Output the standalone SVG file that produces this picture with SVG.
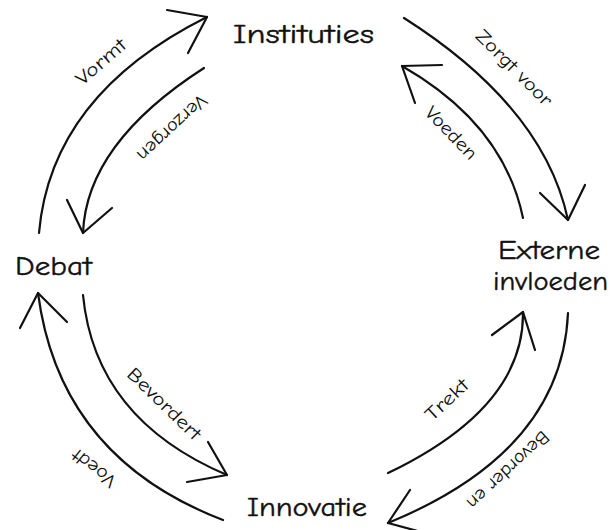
<svg xmlns="http://www.w3.org/2000/svg" width="615" height="530" viewBox="0 0 615 530">
<style>
.node{font-family:"Comic Neue","DejaVu Sans","Liberation Sans",sans-serif;font-size:27px;fill:#111;stroke:#111;stroke-width:0.4;}
.lbl{font-family:"Comic Neue","DejaVu Sans","Liberation Sans",sans-serif;font-size:19px;fill:#111;text-anchor:middle;dominant-baseline:central;}
.c{fill:none;stroke:#111;stroke-width:2.2;stroke-linecap:round;stroke-linejoin:round;}
</style>
<rect width="615" height="530" fill="#fff"/>
<g id="connectors">
  <g id="e-vormt">
    <path class="c" d="M39,233 Q51,95 207,17"/>
    <path class="c" d="M167,10 L207,17 L188,53"/>
    <text class="lbl" transform="translate(101,62) rotate(-41)" textLength="60" lengthAdjust="spacingAndGlyphs">Vormt</text>
  </g>
  <g id="e-verzorgen">
    <path class="c" d="M204,68 Q86.5,143.5 83,233"/>
    <path class="c" d="M67,200 L83,233 L112,208"/>
    <text class="lbl" transform="translate(172,128) rotate(137)" textLength="88" lengthAdjust="spacingAndGlyphs">Verzorgen</text>
  </g>
  <g id="e-zorgt">
    <path class="c" d="M404,18 Q544,107 568,220"/>
    <path class="c" d="M540,193 L568,220 L585,185"/>
    <text class="lbl" transform="translate(514,68) rotate(45)" textLength="100" lengthAdjust="spacingAndGlyphs">Zorgt voor</text>
  </g>
  <g id="e-voeden">
    <path class="c" d="M523,218 Q503.5,124 402,66"/>
    <path class="c" d="M442,65 L402,66 L415,103"/>
    <text class="lbl" transform="translate(451,133) rotate(46)" textLength="66" lengthAdjust="spacingAndGlyphs">Voeden</text>
  </g>
  <g id="e-trekt">
    <path class="c" d="M388,473 Q524.5,407.5 523,312"/>
    <path class="c" d="M492,335 L523,312 L535,350"/>
    <text class="lbl" transform="translate(447,400) rotate(-43)" textLength="52" lengthAdjust="spacingAndGlyphs">Trekt</text>
  </g>
  <g id="e-bevorderen">
    <path class="c" d="M568,313 Q562,452 388,523"/>
    <path class="c" d="M410,490 L388,523 L425,533"/>
    <text class="lbl" transform="translate(508,470) rotate(137)" textLength="105" lengthAdjust="spacingAndGlyphs">Bevorder en</text>
  </g>
  <g id="e-bevordert">
    <path class="c" d="M83,295 Q95,419 227,475"/>
    <path class="c" d="M208,442 L227,475 L187,482"/>
    <text class="lbl" transform="translate(164,404) rotate(44)" textLength="95" lengthAdjust="spacingAndGlyphs">Bevordert</text>
  </g>
  <g id="e-voedt">
    <path class="c" d="M223,520 Q59.5,457.5 38,293"/>
    <path class="c" d="M20,328 L38,293 L67,322"/>
    <text class="lbl" transform="translate(94,468) rotate(218)" textLength="50" lengthAdjust="spacingAndGlyphs">Voedt</text>
  </g>
</g>
<g id="n-instituties"><text class="node" x="233" y="43" textLength="141" lengthAdjust="spacingAndGlyphs">Instituties</text></g>
<g id="n-debat"><text class="node" x="15" y="275" textLength="77" lengthAdjust="spacingAndGlyphs">Debat</text></g>
<g id="n-externe"><text class="node" x="498" y="259" textLength="102" lengthAdjust="spacingAndGlyphs">Externe</text><text class="node" x="493" y="290" textLength="115" lengthAdjust="spacingAndGlyphs">invloeden</text></g>
<g id="n-innovatie"><text class="node" x="247" y="516" textLength="120" lengthAdjust="spacingAndGlyphs">Innovatie</text></g>
</svg>
